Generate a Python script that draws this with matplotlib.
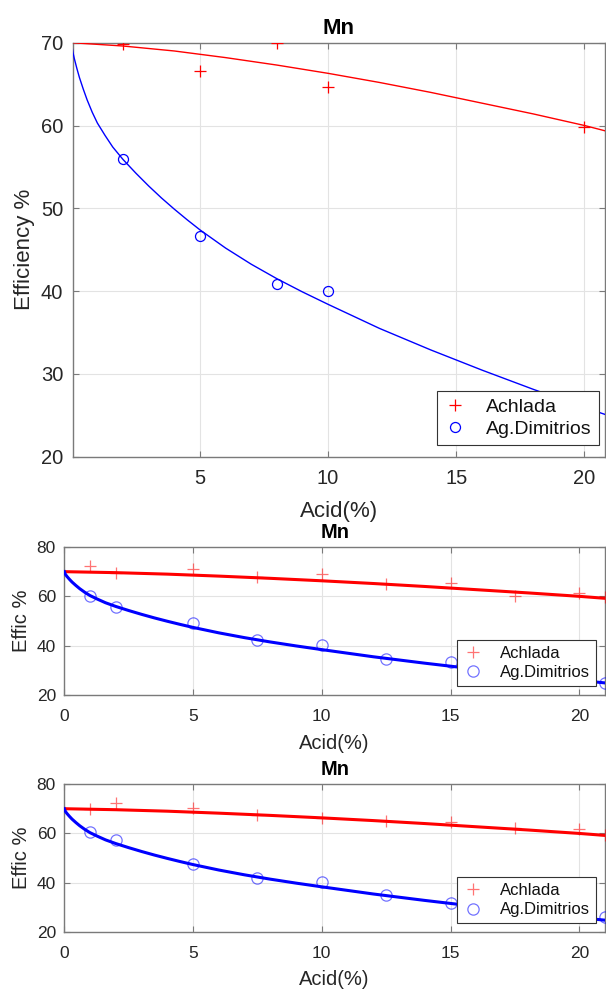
import matplotlib
matplotlib.use("Agg")
import matplotlib.pyplot as plt

plt.rcParams['font.family'] = ['Liberation Sans', 'DejaVu Sans']

# ---------------- data ----------------
title = "Mn"
series_names = ["Achlada", "Ag.Dimitrios"]

# panel 1 measured points
p1_ach_x = [2, 5, 8, 10, 20]
p1_ach_y = [69.9, 66.6, 70.0, 64.6, 59.8]
p1_dim_x = [2, 5, 8, 10]
p1_dim_y = [56.0, 46.6, 40.8, 40.0]

# panel 2 measured points
p2_ach_x = [1, 2, 5, 7.5, 10, 12.5, 15, 17.5, 20, 21]
p2_ach_y = [72.2, 69.6, 71.2, 67.9, 69.0, 65.2, 65.5, 60.3, 61.2, 59.6]
p2_dim_x = [1, 2, 5, 7.5, 10, 12.5, 15, 21]
p2_dim_y = [60.3, 55.5, 49.2, 42.4, 40.1, 34.4, 33.2, 24.7]

# panel 3 measured points
p3_ach_x = [1, 2, 5, 7.5, 10, 12.5, 15, 17.5, 20, 21]
p3_ach_y = [69.7, 72.4, 70.1, 67.3, 66.3, 65.2, 64.7, 62.2, 61.9, 59.5]
p3_dim_x = [1, 2, 5, 7.5, 10, 12.5, 15, 21]
p3_dim_y = [60.4, 57.5, 47.5, 41.8, 40.2, 35.0, 31.8, 26.0]

# fitted curves
fit_ach_x = [0, 2, 4, 6, 8, 10, 12, 14, 16, 18, 20, 21]
fit_ach_y = [70.0, 69.6, 69.0, 68.2, 67.3, 66.3, 65.2, 64.0, 62.7, 61.4, 60.0, 59.2]
fit_dim_x = [0, 0.02, 0.05, 0.1, 0.2, 0.3, 0.45, 0.6, 0.8, 1.0, 1.3, 1.6, 2,
             2.5, 3, 3.5, 4, 4.5, 5, 6, 7, 8, 9, 10, 12, 14, 16, 18, 20, 21]
fit_dim_y = [70.0, 69.4, 68.8, 68.1, 66.9, 65.8, 64.4, 63.1, 61.6, 60.3, 58.8,
             57.4, 55.9, 54.25, 52.7, 51.25, 49.9, 48.62, 47.4, 45.2, 43.25,
             41.5, 39.9, 38.4, 35.5, 32.9, 30.46, 28.14, 25.94, 24.9]

# ticks
p1_xticks = [5, 10, 15, 20]
p1_yticks = [20, 30, 40, 50, 60, 70]
p23_xticks = [0, 5, 10, 15, 20]
p23_yticks = [20, 40, 60, 80]

W, H = 606, 990
fig = plt.figure(figsize=(W / 100, H / 100), dpi=100)

SPINE = '#7a7a7a'
TXT = '#262626'
GRID = '#e3e3e3'
RED = (1, 0, 0)
BLUE = (0, 0, 1)


def px_axes(l, t, r, b):
    return fig.add_axes([l / W, 1 - b / H, (r - l) / W, (b - t) / H])


def style(ax, fs_tick, xpad, ypad):
    for s in ax.spines.values():
        s.set_color(SPINE)
        s.set_linewidth(1.0)
    ax.tick_params(direction='in', length=4, width=0.8, color=SPINE,
                   top=True, right=True, labelsize=fs_tick, labelcolor=TXT)
    ax.tick_params(axis='x', pad=xpad)
    ax.tick_params(axis='y', pad=ypad)
    ax.grid(True, color=GRID, linewidth=0.8)
    ax.set_axisbelow(True)


def panel(ax, ax_x, ax_y, dm_x, dm_y, lw, ms, fs_lab, ylabel, xlabelpad,
          xlim, ylim, xticks, yticks, leg_anchor, fs_leg, mark_alpha):
    ax.plot(fit_ach_x, fit_ach_y, color=RED, lw=lw, zorder=3)
    ax.plot(fit_dim_x, fit_dim_y, color=BLUE, lw=lw, zorder=3)
    ax.plot(ax_x, ax_y, linestyle='none', marker='+', ms=ms, mew=0.9,
            color=RED, alpha=mark_alpha, label=series_names[0], zorder=4)
    ax.plot(dm_x, dm_y, linestyle='none', marker='o', ms=ms * 0.9, mew=0.9,
            mfc='none', mec=BLUE, alpha=mark_alpha, label=series_names[1], zorder=4)
    ax.set_xlim(*xlim)
    ax.set_ylim(*ylim)
    ax.set_xticks(xticks)
    ax.set_yticks(yticks)
    ax.set_title(title, fontsize=fs_lab, fontweight='bold', pad=6.5)
    ax.set_xlabel("Acid(%)", fontsize=fs_lab, color=TXT, labelpad=xlabelpad)
    ax.set_ylabel(ylabel, fontsize=fs_lab, color=TXT)
    leg = ax.legend(loc='lower right', bbox_to_anchor=leg_anchor,
                    fontsize=fs_leg, frameon=True, fancybox=False,
                    edgecolor='#333333', framealpha=1, borderpad=0.35,
                    labelspacing=0.25, handlelength=1.2, handletextpad=1.0,
                    borderaxespad=0)
    leg.get_frame().set_linewidth(0.8)
    for t in leg.get_texts():
        t.set_color('#111111')
    return ax


# panel 1
ax1 = px_axes(73, 42.7, 605, 456.7)
style(ax1, 14.5, 9, 7)
panel(ax1, p1_ach_x, p1_ach_y, p1_dim_x, p1_dim_y, 1.0, 8, 16,
      "Efficiency %", 9.5, (0.05, 20.8), (20, 70), p1_xticks, p1_yticks,
      (0.988, 0.028), 14, 1.0)

# panel 2
ax2 = px_axes(64.3, 547, 605, 695)
style(ax2, 12.5, 10, 6)
panel(ax2, p2_ach_x, p2_ach_y, p2_dim_x, p2_dim_y, 2.2, 9, 14.5,
      "Effic %", 7, (0, 21), (20, 80), p23_xticks, p23_yticks,
      (0.983, 0.061), 12, 0.55)

# panel 3
ax3 = px_axes(64.3, 784, 605, 932.3)
style(ax3, 12.5, 10, 6)
panel(ax3, p3_ach_x, p3_ach_y, p3_dim_x, p3_dim_y, 2.2, 9, 14.5,
      "Effic %", 6, (0, 21), (20, 80), p23_xticks, p23_yticks,
      (0.983, 0.061), 12, 0.55)

fig.savefig("out.png", dpi=100)
